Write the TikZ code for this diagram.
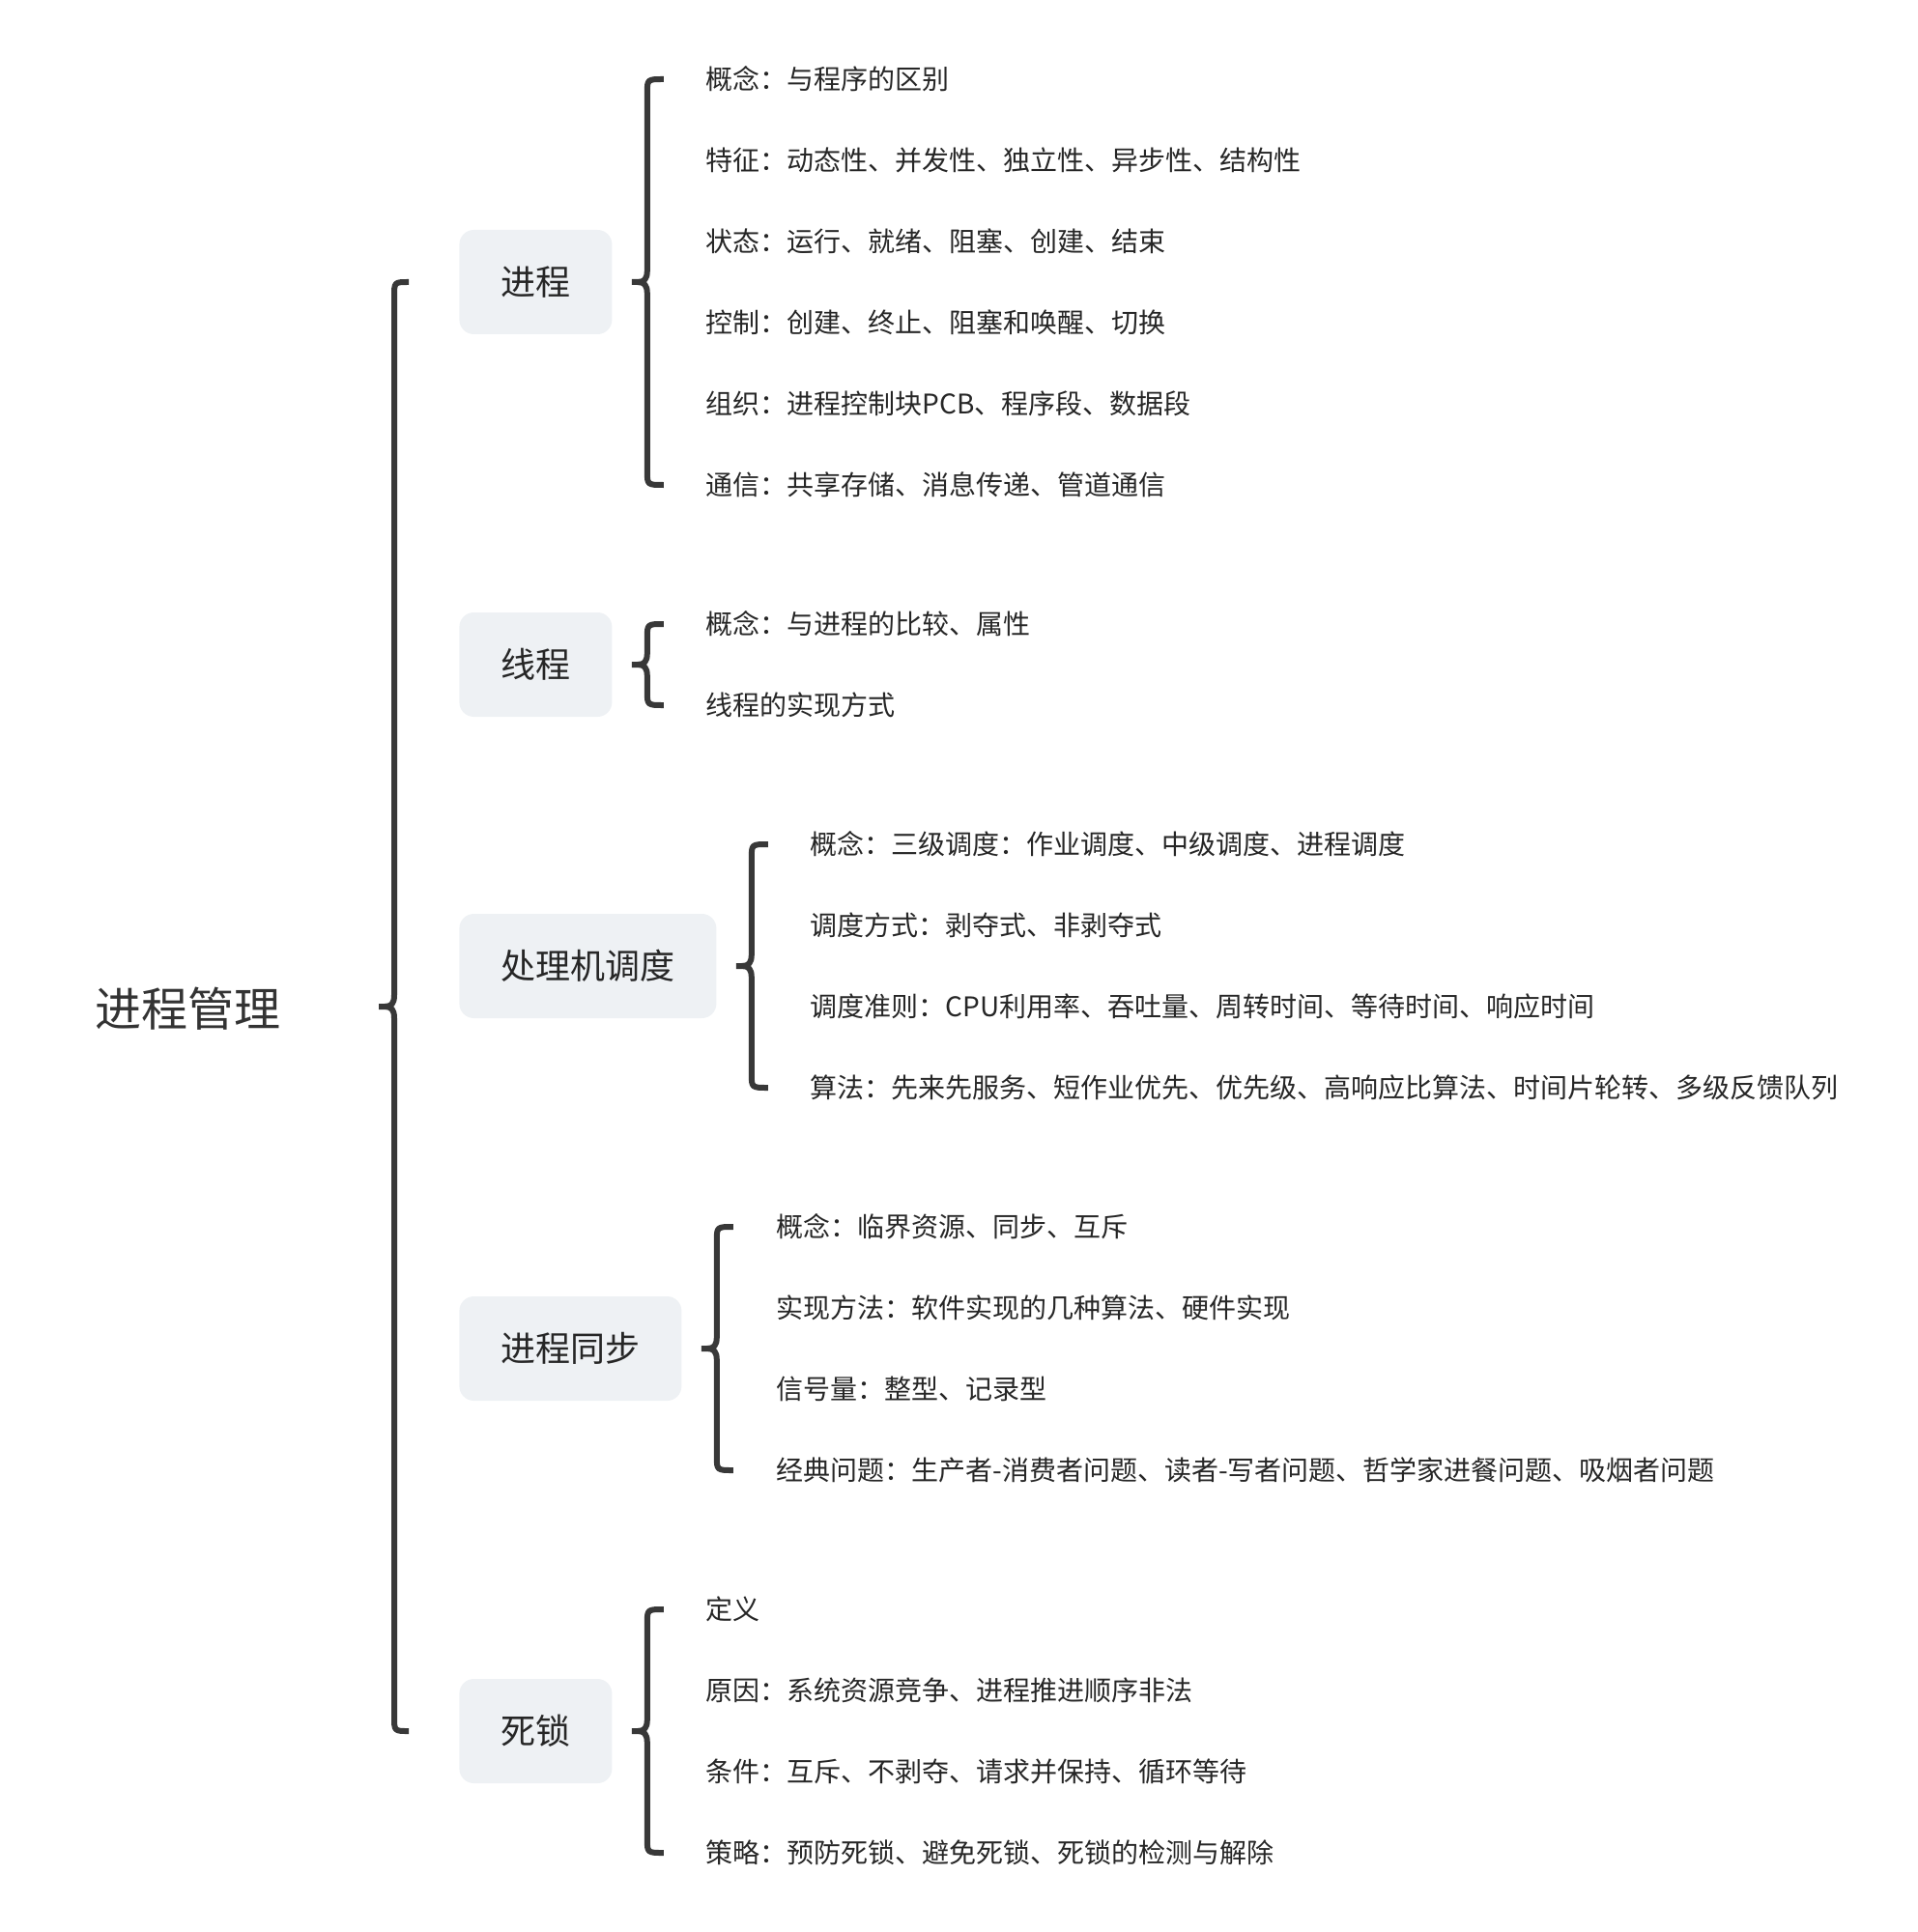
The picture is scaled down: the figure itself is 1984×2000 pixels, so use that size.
\documentclass[tikz,border=0pt]{standalone}
\usepackage{fontspec}
\setmainfont{Noto Sans CJK SC}
\usetikzlibrary{calc}
\definecolor{topicfill}{HTML}{EEF1F4}
\definecolor{linegray}{HTML}{383838}
\definecolor{textgray}{HTML}{262626}
\definecolor{rootgray}{HTML}{333333}

\begin{document}
\begin{tikzpicture}[x=0.5pt,y=-0.5pt,
		root/.style={font=\fontsize{24pt}{28pt}\selectfont,text=rootgray,inner sep=0pt},
		topic/.style={fill=topicfill,rounded corners=7.5pt,font=\fontsize{18pt}{20pt}\selectfont,text=textgray,inner xsep=21.5pt,inner ysep=0pt,minimum height=54pt,anchor=west},
		leaf/.style={font=\fontsize{14pt}{16pt}\selectfont,text=textgray,inner sep=0pt,anchor=west},
		brace/.style={draw=linegray,line width=3pt,line cap=butt,line join=round}]
			\useasboundingbox (0,0) rectangle (1984,2000);
			\node[root] (R) at (194,1044) {进程管理};
			\node[topic] (p) at (475,292) {进程};
			\node[topic] (th) at (475,688) {线程};
			\node[topic] (cpu) at (475,1000) {处理机调度};
			\node[topic] (sync) at (475,1396) {进程同步};
			\node[topic] (dl) at (475,1792) {死锁};
			\foreach \t [count=\i] in {概念：与程序的区别,特征：动态性、并发性、独立性、异步性、结构性,状态：运行、就绪、阻塞、创建、结束,控制：创建、终止、阻塞和唤醒、切换,组织：进程控制块PCB、程序段、数据段,通信：共享存储、消息传递、管道通信}
				\node[leaf] (p\i) at (730,{82+84*(\i-1)}) {\t};
			\foreach \t [count=\i] in {概念：与进程的比较、属性,线程的实现方式}
				\node[leaf] (th\i) at (730,{646+84*(\i-1)}) {\t};
			\foreach \t [count=\i] in {概念：三级调度：作业调度、中级调度、进程调度,调度方式：剥夺式、非剥夺式,调度准则：CPU利用率、吞吐量、周转时间、等待时间、响应时间,算法：先来先服务、短作业优先、优先级、高响应比算法、时间片轮转、多级反馈队列}
				\node[leaf] (cpu\i) at (838,{874+84*(\i-1)}) {\t};
			\foreach \t [count=\i] in {概念：临界资源、同步、互斥,实现方法：软件实现的几种算法、硬件实现,信号量：整型、记录型,经典问题：生产者-消费者问题、读者-写者问题、哲学家进餐问题、吸烟者问题}
				\node[leaf] (sync\i) at (803,{1270+84*(\i-1)}) {\t};
			\foreach \t [count=\i] in {定义,原因：系统资源竞争、进程推进顺序非法,条件：互斥、不剥夺、请求并保持、循环等待,策略：预防死锁、避免死锁、死锁的检测与解除}
				\node[leaf] (dl\i) at (730,{1666+84*(\i-1)}) {\t};
			% brace ends
			\path
			($(p.west)+(-67,0)$) coordinate (Rtop)
			($(dl.west)+(-67,0)$) coordinate (Rbot)
			($(Rtop)!.5!(Rbot)$) coordinate (Rmid);
			\foreach \g/\n in {p/6,th/2,cpu/4,sync/4,dl/4}
				\path ($(\g.east)+(36,0)$) coordinate (\g mid) (\g mid |- \g1.west) coordinate (\g top) (\g mid |- \g\n.west) coordinate (\g bot);
			\foreach \c/\h in {R/15,p/17,th/17,cpu/17,sync/17,dl/17}
				\draw[brace]
				($(\c top)+(\h,0)$) .. controls (\c top) .. ($(\c top)+(0,15)$) -- ($(\c mid)+(0,-12)$)
				.. controls ($(\c mid)+(0,-3)$) and ($(\c mid)+(-3,0)$) .. ($(\c mid)+(-10,0)$) -- ($(\c mid)+(-16,0)$)
				($(\c mid)+(-16,0)$) -- ($(\c mid)+(-10,0)$)
				.. controls ($(\c mid)+(-3,0)$) and ($(\c mid)+(0,3)$) .. ($(\c mid)+(0,12)$) -- ($(\c bot)+(0,-15)$)
				.. controls (\c bot) .. ($(\c bot)+(\h,0)$);
		\end{tikzpicture}
\end{document}
